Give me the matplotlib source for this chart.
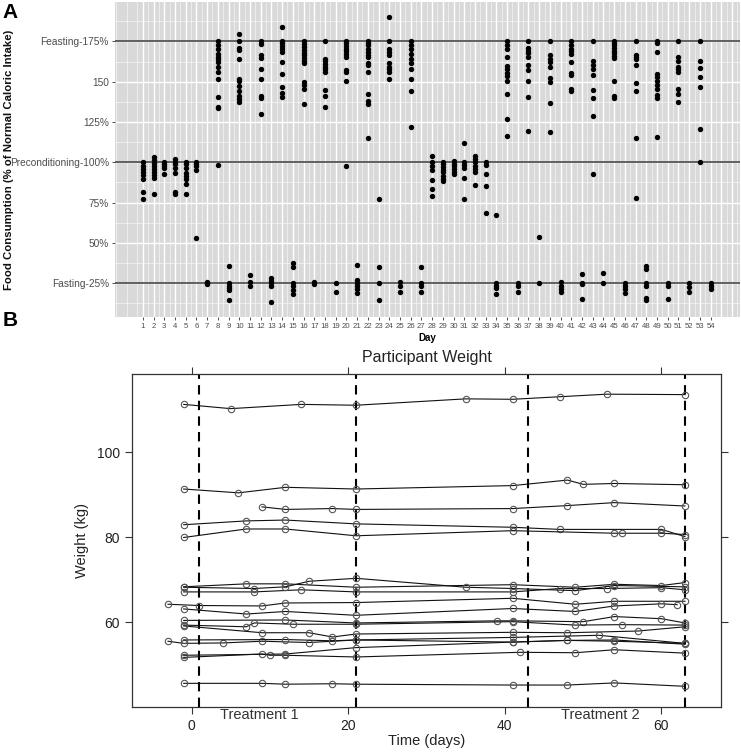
import matplotlib
matplotlib.use("Agg")
import matplotlib.pyplot as plt
import matplotlib.transforms as mtransforms
from matplotlib.ticker import MultipleLocator

plt.rcParams["font.family"] = ["Liberation Sans", "DejaVu Sans"]

# ── Panel A data: food consumption (% of normal intake) per study day ────────
food_days = list(range(1, 55))
food_pct = [
    [100, 98, 96, 94, 92, 89.6, 81.3, 77.1],                          # 1
    [103.3, 101.7, 99.8, 98, 96.1, 94.2, 92.4, 90.5, 80.6],           # 2
    [100.4, 99.2, 98, 96.3, 93],                                      # 3
    [102.1, 100.4, 98.8, 96.7, 93.6, 81.3, 80.6],                     # 4
    [100.4, 98.8, 96.7, 93.4, 91.6, 89.9, 86.8, 80.6],                # 5
    [100.4, 99.2, 97.5, 95, 52.8],                                    # 6
    [26, 25, 24.5],                                                   # 7
    [175.4, 173, 170.3, 167.2, 165.5, 164.3, 162.2, 159.3, 156, 151.5,
     140.6, 134.6, 133.4, 98.2],                                      # 8
    [35.5, 25, 23.5, 22, 20.5, 14.5],                                 # 9
    [179.7, 175, 170.9, 169.6, 164.3, 151.9, 150.3, 147.6, 144.5,
     141.4, 139, 137.5],                                              # 10
    [30, 25.5, 23],                                                   # 11
    [175.4, 173.4, 166.8, 164.7, 157.7, 151.5, 141, 139.6, 130.1],    # 12
    [28.5, 26.5, 25, 23.5, 13],                                       # 13
    [184, 175.4, 173.8, 172.1, 170.5, 168.4, 162, 154.8, 146.6, 143,
     140.6],                                                          # 14
    [37.6, 35, 25, 23, 21, 18.5],                                     # 15
    [175.4, 173.4, 171.3, 169.6, 168, 166.3, 164.7, 163, 161.4, 149.9,
     147.8, 145.7, 136],                                              # 16
    [25.5, 24.5],                                                     # 17
    [175.4, 164.3, 162.6, 161, 159.3, 157.7, 156, 144.9, 141.2, 134.6],  # 18
    [25, 19.4],                                                       # 19
    [175.4, 173.8, 172.1, 170.5, 168.8, 167.2, 165.5, 157.3, 156,
     150.7, 98],                                                      # 20
    [36.3, 26.7, 25, 23.2, 21.3, 18.8],                               # 21
    [175.4, 174.2, 172.5, 170.5, 168.4, 166.8, 165.1, 161.8, 160.2,
     156, 142.5, 138, 136, 115],                                      # 22
    [77.4, 35.3, 25, 14.7],                                           # 23
    [190.2, 175.4, 170.5, 168.4, 166.8, 161.4, 159.3, 157.7, 156,
     151.9],                                                          # 24
    [25.4, 23.4, 19.2],                                               # 25
    [175.4, 173, 170.1, 167.2, 164.3, 161.4, 157.7, 151.5, 144.1,
     121.8],                                                          # 26
    [35.3, 25, 23, 19.2],                                             # 27
    [103.7, 100.4, 98, 95.5, 89.3, 83.7, 79.2],                       # 28
    [100.4, 98.8, 97.1, 95.5, 93.8, 91.8, 89.7, 88.3],                # 29
    [100.8, 99.2, 97.5, 95.9, 94.2, 92.6],                            # 30
    [112, 100, 98.4, 96.7, 90.1, 77],                                 # 31
    [104.1, 102, 100, 98, 95.9, 93.8, 86.2],                          # 32
    [100, 98.4, 92.6, 85.4, 68.7],                                    # 33
    [67.5, 25, 23.4, 21.8, 18.4],                                     # 34
    [175.4, 173, 170.5, 165.5, 159.8, 157.7, 155.6, 153.6, 150.7,
     142.4, 126.8, 116.1],                                            # 35
    [25, 23.4, 19.7],                                                 # 36
    [175.4, 170.9, 169.2, 167.6, 165.5, 160.6, 157.3, 150.7, 140.4,
     119.4],                                                          # 37
    [53.5, 25],                                                       # 38
    [175.4, 166.3, 164.3, 162.2, 159.3, 152.3, 149.9, 136.7, 118.6],  # 39
    [25.4, 23.4, 21.3, 19.2],                                         # 40
    [175.4, 172.5, 170.5, 168.8, 167.2, 162.2, 155.6, 153.9, 145.7,
     144.1],                                                          # 41
    [30.8, 25, 24.2, 14.9],                                           # 42
    [175.4, 162.6, 160.2, 157.7, 154, 144.9, 140, 128.9, 92.6],       # 43
    [31.4, 25],                                                       # 44
    [175.4, 174.2, 172.5, 170.9, 169.2, 167.6, 165.9, 164.7, 150.3,
     141.2, 140],                                                     # 45
    [25, 23.4, 21.3, 18.8],                                           # 46
    [175.4, 166.8, 165.5, 164.3, 160.2, 149, 144.5, 114.8, 77.6],     # 47
    [35.5, 33.9, 25, 23.4, 16, 14.5],                                 # 48
    [175.4, 173.8, 168.4, 154.8, 153.2, 150.3, 148.2, 145.3, 142, 140,
     115.7],                                                          # 49
    [25, 23.4, 15.3],                                                 # 50
    [175.4, 165.5, 162.6, 159.3, 157.7, 156, 145.7, 142.4, 137.5],    # 51
    [25, 22.6, 19.7],                                                 # 52
    [175.4, 163, 158.5, 152.7, 147, 120.6, 100.4],                    # 53
    [25, 23.4, 21.3],                                                 # 54
]
food_ticks = [25, 50, 75, 100, 125, 150, 175]
food_tick_labels = ["Fasting-25%", "50%", "75%", "Preconditioning-100%",
                    "125%", "150", "Feasting-175%"]
food_ref_lines = [25, 100, 175]

# ── Panel B data: participant weight (kg) over time (days) ───────────────────
weight_days = [
    [-1, 5, 14, 21, 35, 41, 47, 53, 63],
    [-1, 6, 12, 21, 41, 48, 50, 54, 63],
    [9, 12, 18, 21, 41, 48, 54, 63],
    [-1, 7, 12, 21, 41, 47, 60, 63],
    [-1, 7, 12, 21, 41, 54, 55, 60, 63],
    [-1, 7, 12, 21, 41, 49, 54, 60, 63],
    [-1, 8, 14, 21, 41, 47, 53, 60, 63],
    [-1, 8, 12, 15, 21, 35, 41, 49, 54, 63],
    [-3, 1, 9, 12, 21, 41, 49, 54, 63],
    [-1, 7, 12, 21, 41, 49, 54, 60, 62],
    [-1, 12, 21, 39, 41, 50, 54, 60, 63],
    [-1, 7, 8, 13, 21, 41, 49, 55, 63],
    [-1, 9, 15, 18, 21, 41, 48, 57, 63],
    [-3, -1, 4, 9, 15, 21, 41, 52, 63],
    [-1, 12, 18, 21, 41, 48, 54, 63],
    [-1, 9, 10, 12, 21, 42, 49, 54, 63],
    [-1, 12, 21, 41, 48, 54, 63],
    [-1, 9, 12, 18, 21, 41, 48, 54, 63],
]
weight_kg = [
    [111.2, 110.2, 111.2, 111.0, 112.5, 112.4, 113.0, 113.6, 113.5],
    [91.3, 90.4, 91.7, 91.3, 92.1, 93.4, 92.4, 92.6, 92.3],
    [87.1, 86.5, 86.7, 86.5, 86.7, 87.4, 88.1, 87.3],
    [82.9, 83.8, 84.0, 83.1, 82.3, 81.8, 81.8, 80.1],
    [79.9, 81.9, 81.9, 80.3, 81.5, 80.9, 80.9, 80.9, 80.6],
    [68.3, 69.0, 69.0, 68.2, 68.8, 68.2, 68.9, 68.6, 69.3],
    [67.1, 67.1, 67.6, 67.1, 67.1, 67.9, 67.9, 68.1, 67.6],
    [68.2, 67.9, 68.3, 69.6, 70.3, 68.2, 67.9, 67.4, 68.6, 68.3],
    [64.2, 63.9, 63.8, 64.5, 64.6, 65.6, 64.2, 64.9, 64.9],
    [63.1, 61.9, 62.5, 61.6, 63.2, 62.5, 63.8, 64.3, 64.1],
    [60.4, 60.5, 59.8, 60.3, 60.3, 60.1, 61.3, 60.8, 59.8],
    [59.3, 58.9, 59.8, 59.5, 59.5, 60.1, 59.3, 59.4, 59.3],
    [59.1, 57.5, 57.5, 56.5, 57.2, 57.6, 57.5, 57.9, 58.9],
    [55.5, 55.0, 55.1, 55.5, 55.2, 55.8, 56.4, 56.9, 55.0],
    [55.8, 55.9, 55.6, 55.8, 55.3, 55.7, 55.8, 54.8],
    [51.7, 52.5, 52.2, 52.2, 51.8, 52.9, 52.8, 53.5, 52.7],
    [52.2, 52.5, 54.0, 55.3, 55.7, 55.5, 55.0],
    [45.6, 45.6, 45.4, 45.5, 45.4, 45.2, 45.2, 45.7, 44.9],
]
phase_lines = [1, 21, 43, 63]
phase_labels = [("Treatment 1", 8.7), ("Treatment 2", 52.2)]

_PANEL = "#D9D9D9"
_TXT = "#4D4D4D"

fig = plt.figure(figsize=(7.41, 7.54), dpi=100)

# ── Panel A ──────────────────────────────────────────────────────────────────
ax = fig.add_axes([0.1552, 0.5796, 0.8428, 0.4178])
ax.set_facecolor(_PANEL)
for s in ax.spines.values():
    s.set_visible(False)
ax.set_xlim(-1.6, 56.7)
ax.set_ylim(4.0, 199.5)

ax.set_xticks(food_days)
ax.set_xticklabels([str(d) for d in food_days])
ax.set_xticks([d + 0.5 for d in range(-2, 57)], minor=True)
ax.set_yticks(food_ticks)
ax.set_yticklabels(food_tick_labels)
ax.yaxis.set_minor_locator(MultipleLocator(12.5))
ax.set_axisbelow(True)
ax.grid(True, which="major", color="white", linewidth=1.0)
ax.grid(True, which="minor", color="white", linewidth=0.45, alpha=0.8)
for extra in (55, 56):
    ax.axvline(extra, color="white", linewidth=1.0, zorder=0.5)
ax.tick_params(axis="x", which="major", labelsize=5.6, colors="#333333",
               labelcolor=_TXT, length=2.5, width=0.6, pad=2)
ax.tick_params(axis="y", which="major", labelsize=7.3, colors="#333333",
               labelcolor=_TXT, length=2.5, width=0.6, pad=2)
ax.tick_params(which="minor", length=0)

for y in food_ref_lines:
    ax.axhline(y, color="#555555", linewidth=1.3, zorder=2)

for d, vals in zip(food_days, food_pct):
    ax.scatter([d] * len(vals), vals, s=15, color="black", linewidths=0, zorder=3)

ax.set_xlabel("Day", fontsize=7, fontweight="bold", labelpad=2)
ax.set_ylabel("Food Consumption (% of Normal Caloric Intake)", fontsize=8.2,
              fontweight="bold", color="#111111")
ax.yaxis.set_label_coords(-0.1616, 0.5)

fig.text(0.004, 0.996, "A", fontsize=15, fontweight="bold", va="top", ha="left")
fig.text(0.004, 0.588, "B", fontsize=15, fontweight="bold", va="top", ha="left")

# ── Panel B ──────────────────────────────────────────────────────────────────
axb = fig.add_axes([0.1781, 0.0627, 0.7949, 0.4413])
axb.set_xlim(-7.6, 67.6)
axb.set_ylim(40.1, 118.35)
for s in axb.spines.values():
    s.set_edgecolor("#333333")
    s.set_linewidth(0.9)

for days, kg in zip(weight_days, weight_kg):
    axb.plot(days, kg, "-", color="#111111", linewidth=0.8, marker="o",
             markersize=4.6, markerfacecolor="none", markeredgecolor="#555555",
             markeredgewidth=0.8, zorder=3)

for x in phase_lines:
    axb.axvline(x, color="black", linewidth=1.5, linestyle=(0, (4.5, 3)), zorder=2)

axb.set_xticks([0, 20, 40, 60])
axb.set_yticks([60, 80, 100])
axb.tick_params(direction="out", length=5, width=0.8, colors="#333333",
                labelcolor="#222222", labelsize=10, pad=3.5,
                top=True, right=True, labeltop=False, labelright=False)

trans = mtransforms.blended_transform_factory(axb.transData, axb.transAxes)
for label, x in phase_labels:
    axb.text(x, -0.026, label, transform=trans, ha="center", va="center",
             fontsize=10.5, color="#333333")

axb.set_xlabel("Time (days)", fontsize=10.5, color="#222222", labelpad=1)
axb.set_ylabel("Weight (kg)", fontsize=10.5, color="#222222", labelpad=6)
fig.text(0.5756, 0.5252, "Participant Weight", fontsize=11.5, color="#222222",
         ha="center", va="center")

fig.savefig("out.png", dpi=100, facecolor="white")
plt.close(fig)
